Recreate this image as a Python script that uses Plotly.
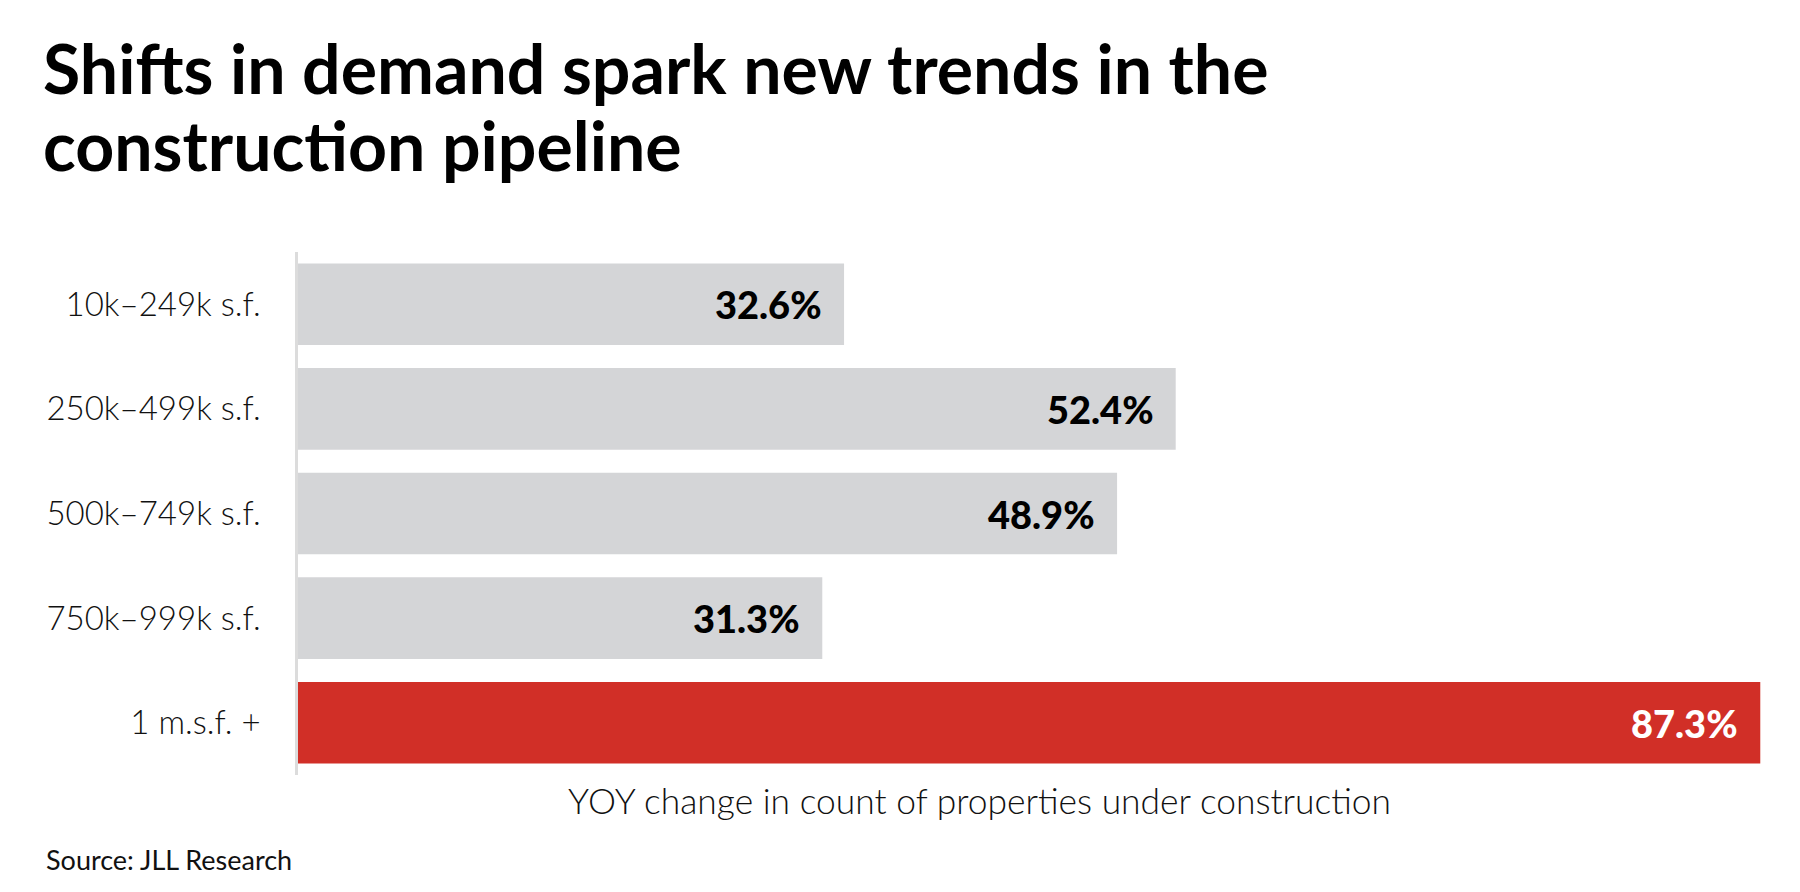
import plotly.graph_objects as go

categories = ["10k–249k s.f.", "250k–499k s.f.", "500k–749k s.f.", "750k–999k s.f.", "1 m.s.f. +"]
values = [32.6, 52.4, 48.9, 31.3, 87.3]
value_labels = ["32.6%", "52.4%", "48.9%", "31.3%", "87.3%"]
bar_colors = ["#d4d5d7", "#d4d5d7", "#d4d5d7", "#d4d5d7", "#d12f27"]
label_colors = ["#000000", "#000000", "#000000", "#000000", "#ffffff"]

title_lines = ["Shifts in demand spark new trends in the", "construction pipeline"]
axis_title = "YOY change in count of properties under construction"
source_text = "Source: JLL Research"

# page offset (body margin) compensation
OFF = 8
W, H = 1800 - 2 * OFF, 892 - 2 * OFF
ML, MT = 298 - OFF, 252 - OFF
plot_w, plot_h = 1482, 523
MR = W - ML - plot_w
MB = H - MT - plot_h


def px_x(page_x):
    return (page_x - OFF - ML) / plot_w


def px_y(page_y):
    return (MT + plot_h - (page_y - OFF)) / plot_h


fig = go.Figure(go.Bar(
    x=values, y=categories, orientation="h",
    marker=dict(color=bar_colors, line=dict(width=0)),
    hoverinfo="skip",
))

for v, c, t, col in zip(values, categories, value_labels, label_colors):
    fig.add_annotation(x=v, y=c, xref="x", yref="y", text=t, showarrow=False,
                       xanchor="right", yanchor="middle", xshift=-20,
                       font=dict(family="Lato", size=38, weight=900, color=col))

for i, line in enumerate(title_lines):
    fig.add_annotation(x=px_x(41), y=px_y(67 + 77 * i), xref="paper", yref="paper",
                       text=line, showarrow=False, xanchor="left", yanchor="middle",
                       font=dict(family="Lato", size=68, weight=700, color="#000000"))

fig.add_annotation(x=px_x(979), y=px_y(800), xref="paper", yref="paper",
                   text=axis_title, showarrow=False, xanchor="center", yanchor="middle",
                   font=dict(family="Lato", size=35.4, weight=300, color="#111111"))

fig.add_annotation(x=px_x(44), y=px_y(860), xref="paper", yref="paper",
                   text=source_text, showarrow=False, xanchor="left", yanchor="middle",
                   font=dict(family="Lato", size=27, color="#111111"))

fig.update_layout(
    width=W, height=H,
    margin=dict(l=ML, r=MR, t=MT, b=MB, pad=0),
    paper_bgcolor="white", plot_bgcolor="white",
    bargap=0.22,
    showlegend=False,
    xaxis=dict(range=[0, plot_w / 16.75], showgrid=False, zeroline=False,
               showticklabels=False, showline=False, fixedrange=True),
    yaxis=dict(autorange="reversed", showgrid=False, zeroline=False,
               showline=True, linecolor="#dcdcdc", linewidth=2.5,
               ticks="", ticklabelstandoff=28,
               tickfont=dict(family="Lato", size=33, weight=300, color="#111111")),
)

fig.write_html("out.html")
